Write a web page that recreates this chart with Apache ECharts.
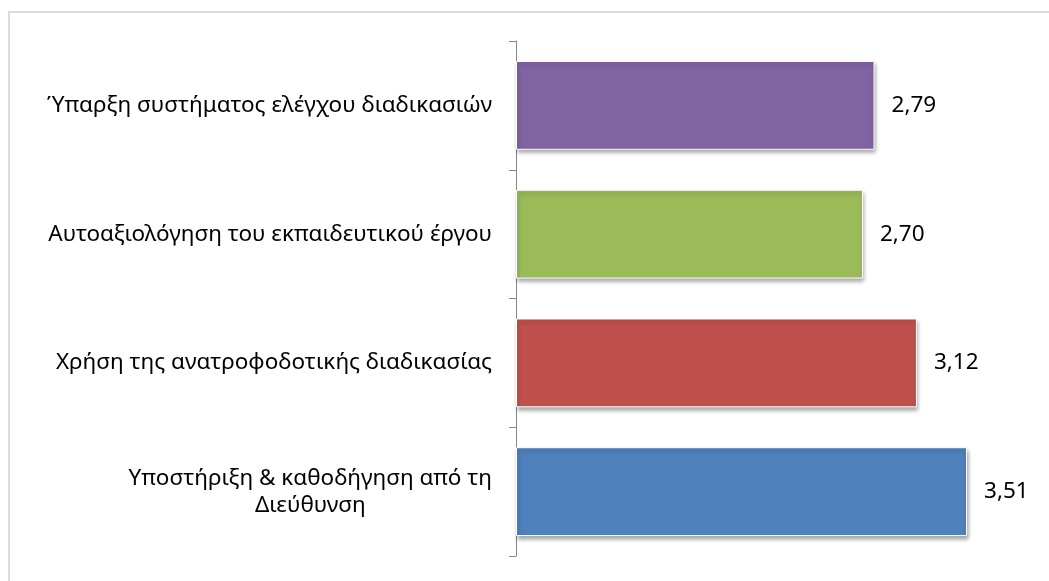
<!DOCTYPE html>
<html>
<head>
<meta charset="utf-8">
<script src="https://cdn.jsdelivr.net/npm/echarts@6/dist/echarts.min.js"></script>
<style>
  html, body { margin: 0; padding: 0; background: #fff; }
  #frame { position: absolute; left: 8px; top: 11px; width: 1100px; height: 700px;
           border-left: 2px solid #dcdcdc; border-top: 2px solid #dcdcdc; box-sizing: border-box; }
  #chart { position: absolute; left: 0; top: 0; width: 1049px; height: 581px; }
</style>
</head>
<body>
<div id="frame"></div>
<div id="chart"></div>
<script>
// Categories listed bottom to top (category axis runs upward)
const categories = [
  'Υποστήριξη & καθοδήγηση από τη\nΔιεύθυνση',
  'Χρήση της ανατροφοδοτικής διαδικασίας',
  'Αυτοαξιολόγηση του εκπαιδευτικού έργου',
  'Ύπαρξη συστήματος ελέγχου διαδικασιών'
];
const values = [3.51, 3.12, 2.70, 2.79];
const barColors = ['#4F81BD', '#C0504D', '#9BBB59', '#8064A2'];

const chart = echarts.init(document.getElementById('chart'));
const font = '"Noto Sans", "Open Sans", sans-serif';

chart.setOption({
  animation: false,
  grid: { left: 516, right: 19, top: 41, bottom: 25, containLabel: false },
  xAxis: {
    type: 'value', min: 0, max: 4, show: false
  },
  yAxis: {
    type: 'category',
    data: categories,
    axisLine: { show: true, lineStyle: { color: '#868686', width: 1 } },
    axisTick: { show: true, length: 7, lineStyle: { color: '#868686' } },
    axisLabel: {
      margin: 24,
      color: '#000',
      fontFamily: font,
      fontSize: 22.5,
      lineHeight: 27,
      formatter: v => v.split('\n').map(s => '{c|' + s + '}').join('\n'),
      rich: { c: { align: 'center', fontFamily: font, fontSize: 22.5, color: '#000', lineHeight: 27 } }
    }
  },
  series: [{
    type: 'bar',
    barCategoryGap: '31%',
    data: values.map((v, i) => ({ value: v, itemStyle: { color: barColors[i] } })),
    itemStyle: {
      borderColor: '#ffffff', borderWidth: 1,
      shadowColor: 'rgba(0,0,0,0.35)', shadowBlur: 4, shadowOffsetX: 1, shadowOffsetY: 3
    },
    label: {
      show: true, position: 'right', distance: 17,
      color: '#000', fontFamily: font, fontSize: 22.5,
      formatter: p => p.value.toFixed(2).replace('.', ',')
    }
  }]
});
</script>
</body>
</html>
